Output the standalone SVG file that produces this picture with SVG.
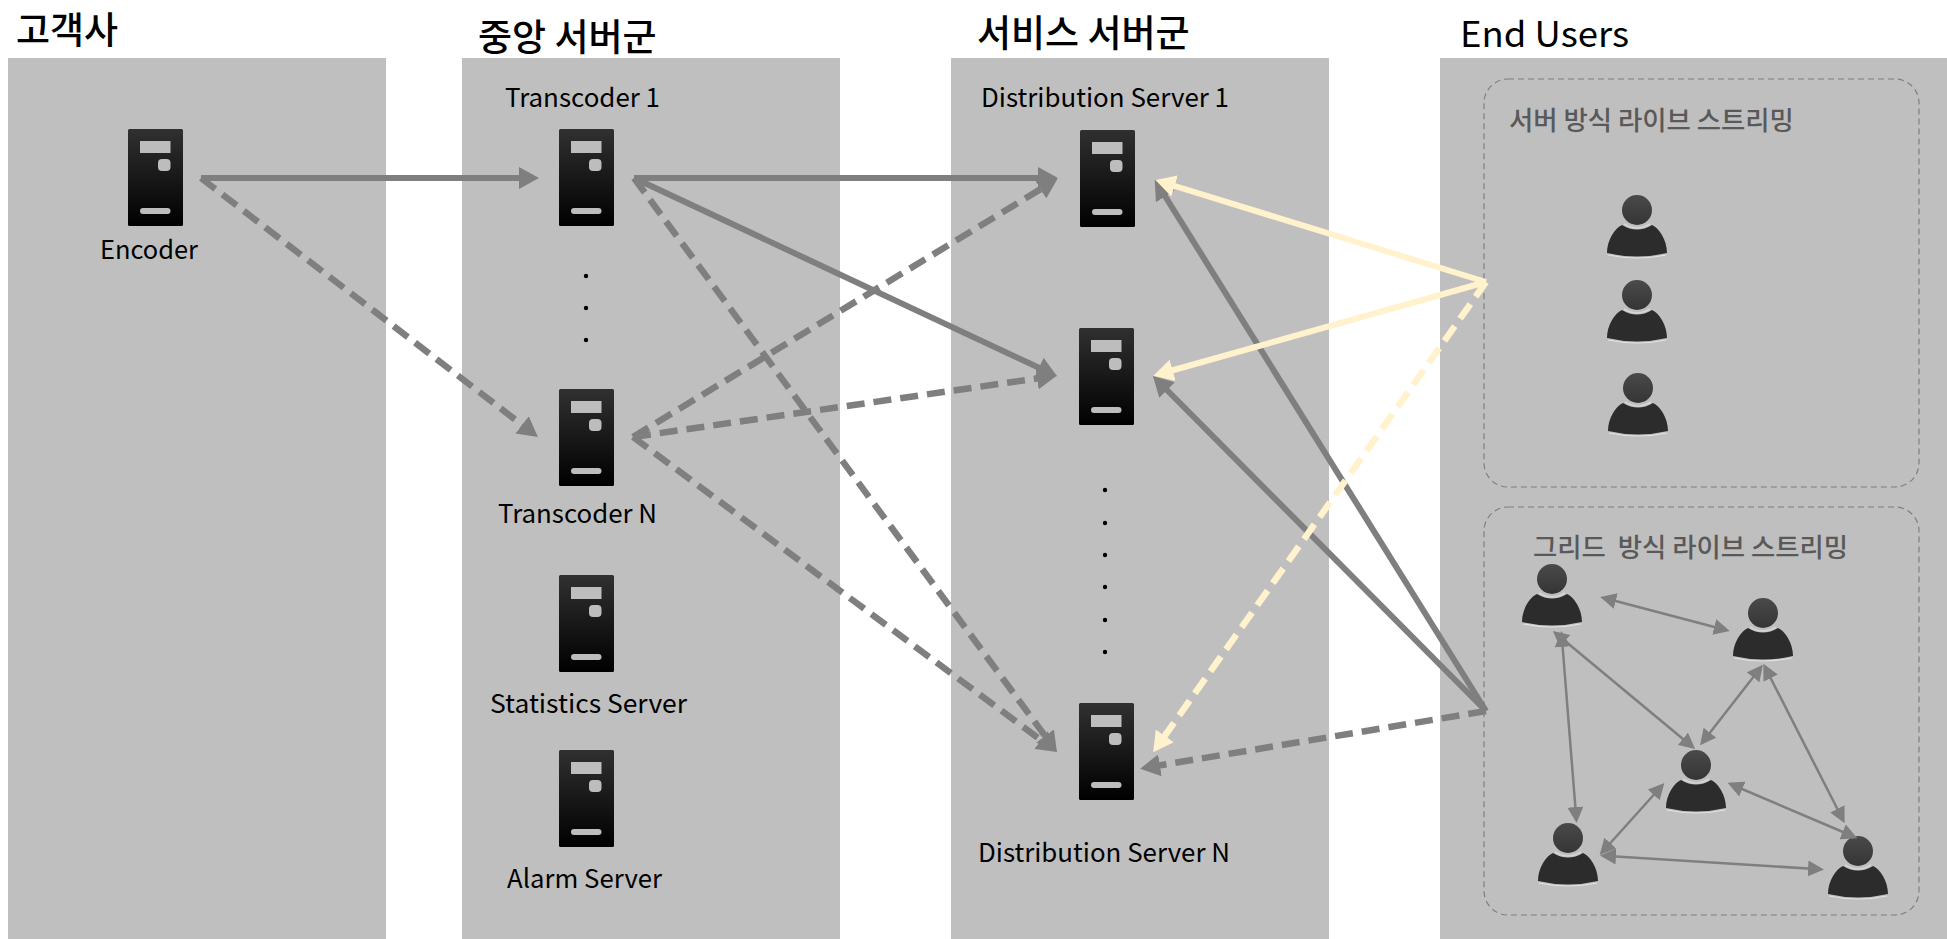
<svg xmlns="http://www.w3.org/2000/svg" width="1947" height="939" viewBox="0 0 1947 939">
<style>
text{font-family:"Noto Sans CJK KR","Noto Sans",sans-serif;fill:#000;white-space:pre}
.h{font-size:37px;font-weight:500}
.e{font-size:35px;font-weight:400}
.l{font-size:26px}
.g{font-size:26.4px;font-weight:500;fill:#595959}
.panel{fill:#bfbfbf}
.box{fill:none;stroke:#7f7f7f;stroke-width:1.2;stroke-dasharray:6 4}
.m{fill:none;stroke:#7f7f7f;stroke-width:6;marker-end:url(#ag)}
.y{fill:none;stroke:#fff2cc;stroke-width:6;marker-end:url(#ay)}
.d{stroke-dasharray:18 9;stroke-width:6.5}
.t{fill:none;stroke:#7f7f7f;stroke-width:2.5;marker-start:url(#as);marker-end:url(#ae)}
.dot{fill:#000}
</style>
<defs>
<linearGradient id="sg" x1="0" y1="0" x2="0" y2="1"><stop offset="0" stop-color="#303030"/><stop offset="1" stop-color="#000"/></linearGradient>
<linearGradient id="hg" x1="0" y1="0" x2="0" y2="1"><stop offset="0" stop-color="#4a4a4a"/><stop offset="1" stop-color="#353535"/></linearGradient>
<marker id="ag" viewBox="0 0 20 22" refX="10" refY="11" markerWidth="20" markerHeight="22" markerUnits="userSpaceOnUse" orient="auto"><path d="M0 0L20 11L0 22Z" fill="#7f7f7f"/></marker>
<marker id="ay" viewBox="0 0 20 22" refX="10" refY="11" markerWidth="20" markerHeight="22" markerUnits="userSpaceOnUse" orient="auto"><path d="M0 0L20 11L0 22Z" fill="#fff2cc"/></marker>
<marker id="ae" viewBox="0 0 16 16" refX="8" refY="8" markerWidth="16" markerHeight="16" markerUnits="userSpaceOnUse" orient="auto"><path d="M0 0L16 8L0 16Z" fill="#7f7f7f"/></marker>
<marker id="as" viewBox="0 0 16 16" refX="8" refY="8" markerWidth="16" markerHeight="16" markerUnits="userSpaceOnUse" orient="auto-start-reverse"><path d="M0 0L16 8L0 16Z" fill="#7f7f7f"/></marker>
<g id="srv">
<rect width="55" height="97" rx="1.5" fill="url(#sg)"/>
<rect x="12" y="12" width="30.5" height="12" fill="#bdbdbd"/>
<rect x="30" y="30" width="12.5" height="12" rx="4" fill="#bdbdbd"/>
<rect x="12" y="79" width="30.5" height="6" rx="3" fill="#bdbdbd"/>
</g>
<g id="usr">
<circle r="15" fill="url(#hg)"/>
<path d="M-30 43C-30 30-22 18-15 15Q0 24 15 15C22 18 30 30 30 43Q0 50-30 43Z" fill="#2c2c2c"/>
<path d="M-13 14Q0 22 13 14" fill="none" stroke="#d6d6d6" stroke-width="1.5"/>
<path d="M-29 45Q0 51 29 45" fill="none" stroke="#e2e2e2" stroke-width="1.2"/>
</g>
</defs>
<rect width="1947" height="939" fill="#fff"/>
<g id="panels">
<rect class="panel" x="8" y="58" width="378" height="881"/>
<rect class="panel" x="462" y="58" width="378" height="881"/>
<rect class="panel" x="951" y="58" width="378" height="881"/>
<rect class="panel" x="1440" y="58" width="507" height="881"/>
</g>
<g id="headings">
<text class="h" x="16" y="44">고객사</text>
<text class="h" x="478" y="51">중앙 서버군</text>
<text class="h" x="977" y="47">서비스 서버군</text>
<text class="e" x="1460" y="47" textLength="169" lengthAdjust="spacingAndGlyphs">End Users</text>
</g>
<g id="group-server"><rect class="box" x="1484" y="79" width="435" height="408" rx="24"/><text class="g" x="1509" y="130">서버 방식 라이브 스트리밍</text></g>
<g id="group-grid"><rect class="box" x="1484" y="507" width="435" height="408" rx="24"/><text class="g" x="1533" y="557">그리드  방식 라이브 스트리밍</text></g>
<g id="encoder"><use href="#srv" x="128" y="129"/><text class="l" x="100" y="259" textLength="98" lengthAdjust="spacingAndGlyphs">Encoder</text></g>
<g id="transcoder-1"><use href="#srv" x="559" y="129"/><text class="l" x="505" y="107" textLength="155" lengthAdjust="spacingAndGlyphs">Transcoder 1</text></g>
<g id="transcoder-n"><use href="#srv" x="559" y="389"/><text class="l" x="498" y="523" textLength="159" lengthAdjust="spacingAndGlyphs">Transcoder N</text></g>
<g id="statistics"><use href="#srv" x="559" y="575"/><text class="l" x="490" y="713" textLength="197" lengthAdjust="spacingAndGlyphs">Statistics Server</text></g>
<g id="alarm"><use href="#srv" x="559" y="750"/><text class="l" x="507" y="888" textLength="155" lengthAdjust="spacingAndGlyphs">Alarm Server</text></g>
<g id="dist-1"><use href="#srv" x="1080" y="130"/><text class="l" x="981" y="107" textLength="248" lengthAdjust="spacingAndGlyphs">Distribution Server 1</text></g>
<g id="dist-2"><use href="#srv" x="1079" y="328"/></g>
<g id="dist-n"><use href="#srv" x="1079" y="703"/><text class="l" x="978" y="862" textLength="252" lengthAdjust="spacingAndGlyphs">Distribution Server N</text></g>
<g id="dots">
<circle class="dot" cx="586" cy="276" r="2.2"/><circle class="dot" cx="586" cy="308" r="2.2"/><circle class="dot" cx="586" cy="340" r="2.2"/>
<circle class="dot" cx="1105" cy="490" r="2.2"/><circle class="dot" cx="1105" cy="523" r="2.2"/><circle class="dot" cx="1105" cy="555" r="2.2"/><circle class="dot" cx="1105" cy="587" r="2.2"/><circle class="dot" cx="1105" cy="620" r="2.2"/><circle class="dot" cx="1105" cy="652" r="2.2"/>
</g>
<g id="user-1"><use href="#usr" x="1637" y="210"/></g>
<g id="user-2"><use href="#usr" x="1637" y="295"/></g>
<g id="user-3"><use href="#usr" x="1638" y="388"/></g>
<g id="peer-1"><use href="#usr" x="1552" y="579"/></g>
<g id="peer-2"><use href="#usr" x="1763" y="613"/></g>
<g id="peer-3"><use href="#usr" x="1696" y="765"/></g>
<g id="peer-4"><use href="#usr" x="1568" y="838"/></g>
<g id="peer-5"><use href="#usr" x="1858" y="851"/></g>
<g id="connectors">
<path class="m" d="M201 178L529 178"/>
<path class="m d" d="M201 178L530 431"/>
<path class="m" d="M634 178L1048 178"/>
<path class="m" d="M634 178L1048 372"/>
<path class="m d" d="M634 178L1051 744"/>
<path class="m d" d="M633 437L1049 184"/>
<path class="m d" d="M633 437L1047 377"/>
<path class="m d" d="M633 437L1049 746"/>
<path class="m" d="M1486 711L1160 188"/>
<path class="m" d="M1486 711L1160 383"/>
<path class="m d" d="M1486 711L1150 767"/>
<path class="y" d="M1486 282L1165 183"/>
<path class="y" d="M1486 282L1163 373"/>
<path class="y d" d="M1486 282L1159 744"/>
<path class="t" d="M1608 599L1722 629"/>
<path class="t" d="M1562 639L1576 815"/>
<path class="t" d="M1559 636L1689 744"/>
<path class="t" d="M1758 671L1705 739"/>
<path class="t" d="M1767 671L1841 816"/>
<path class="t" d="M1735 786L1850 835"/>
<path class="t" d="M1659 789L1605 849"/>
<path class="t" d="M1608 856L1816 869"/>
</g>
</svg>
